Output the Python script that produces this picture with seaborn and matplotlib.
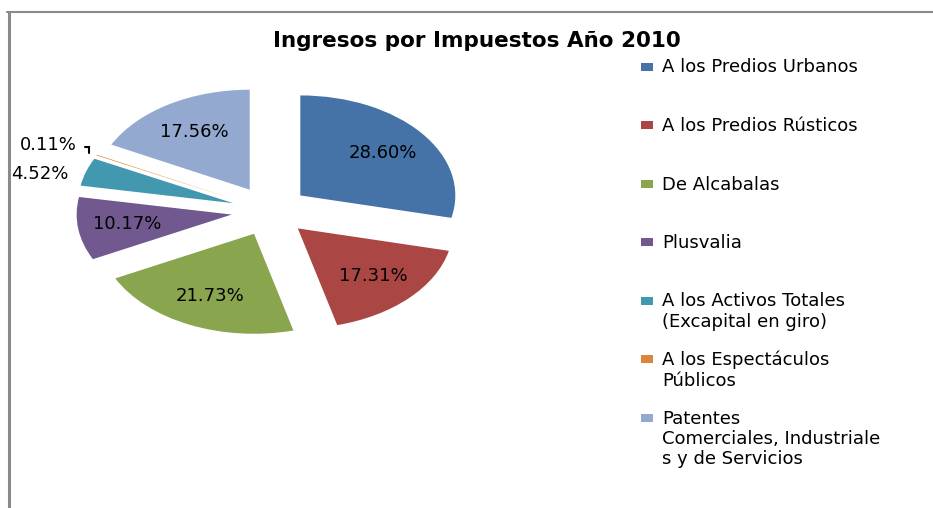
import matplotlib
matplotlib.use("Agg")
import matplotlib.pyplot as plt
import seaborn as sns
from matplotlib.patches import Rectangle
from matplotlib.lines import Line2D
import numpy as np

# ---- data ----
categories = [
    "A los Predios Urbanos",
    "A los Predios Rústicos",
    "De Alcabalas",
    "Plusvalia",
    "A los Activos Totales (Excapital en giro)",
    "A los Espectáculos Públicos",
    "Patentes Comerciales, Industriales y de Servicios",
]
legend_labels = [
    "A los Predios Urbanos",
    "A los Predios Rústicos",
    "De Alcabalas",
    "Plusvalia",
    "A los Activos Totales\n(Excapital en giro)",
    "A los Espectáculos\nPúblicos",
    "Patentes\nComerciales, Industriale\ns y de Servicios",
]
shares = [28.60, 17.31, 21.73, 10.17, 4.52, 0.11, 17.56]
colors = ["#4572A7", "#AA4643", "#89A54E", "#71588F", "#4198AF", "#DB843D", "#93A9CF"]
title = "Ingresos por Impuestos Año 2010"

sns.set_theme(style="white")
plt.rcParams["font.family"] = ["DejaVu Sans"]
palette = sns.color_palette(colors)

W, H = 933, 508
fig = plt.figure(figsize=(W / 100, H / 100), dpi=100)
fig.patch.set_facecolor("white")

# pie axes (stretched horizontally like the reference)
ax = fig.add_axes([37.5 / W, (H - 361) / H, 465 / W, 300 / H])
wedges, texts, autotexts = ax.pie(
    shares,
    colors=palette,
    startangle=90,
    counterclock=False,
    explode=[0.25] * len(shares),
    autopct="%.2f%%",
    pctdistance=0.68,
    wedgeprops=dict(linewidth=0),
    textprops=dict(fontsize=13, color="black"),
)
ax.set_aspect("auto")
ax.set_xlim(-1.5, 1.5)
ax.set_ylim(-1.5, 1.5)
ax.axis("off")

# small slices: labels outside
def outer_point(w):
    m = np.deg2rad((w.theta1 + w.theta2) / 2)
    cx, cy = w.center
    return cx + w.r * np.cos(m), cy + w.r * np.sin(m)

ox, oy = outer_point(wedges[4])
autotexts[4].set_position((ox - 0.30, oy - 0.02))
ox, oy = outer_point(wedges[5])
autotexts[5].set_position((ox - 0.31, oy + 0.10))
ax.plot([ox - 0.075, ox - 0.048, ox - 0.048], [oy + 0.085, oy + 0.085, oy + 0.025],
        color="black", lw=1.5, solid_joinstyle="miter")

# title
fig.text(477 / W, 1 - 47 / H, title, ha="center", va="baseline",
         fontsize=15.5, fontweight="bold", color="black")

# legend (equal slots like the original)
y0, step, lstep = 66.5, 58.5, 20.5
for i, (lab, col) in enumerate(zip(legend_labels, palette)):
    yc = y0 + i * step
    fig.add_artist(Rectangle((641 / W, 1 - (yc + 4) / H), 12 / W, 8 / H,
                             transform=fig.transFigure, facecolor=col, edgecolor="none"))
    for k, line in enumerate(lab.split("\n")):
        fig.text(662 / W, 1 - (yc + 6 + k * lstep) / H, line, ha="left", va="baseline",
                 fontsize=13, color="black")

# chart-area border (top and left)
fig.add_artist(Line2D([7 / W, 1], [1 - 12 / H, 1 - 12 / H], transform=fig.transFigure,
                      color="#8a8a8a", lw=1.5))
fig.add_artist(Line2D([8.5 / W, 8.5 / W], [0, 1 - 12 / H], transform=fig.transFigure,
                      color="#8a8a8a", lw=2.2))

fig.savefig("out.png", dpi=100)
